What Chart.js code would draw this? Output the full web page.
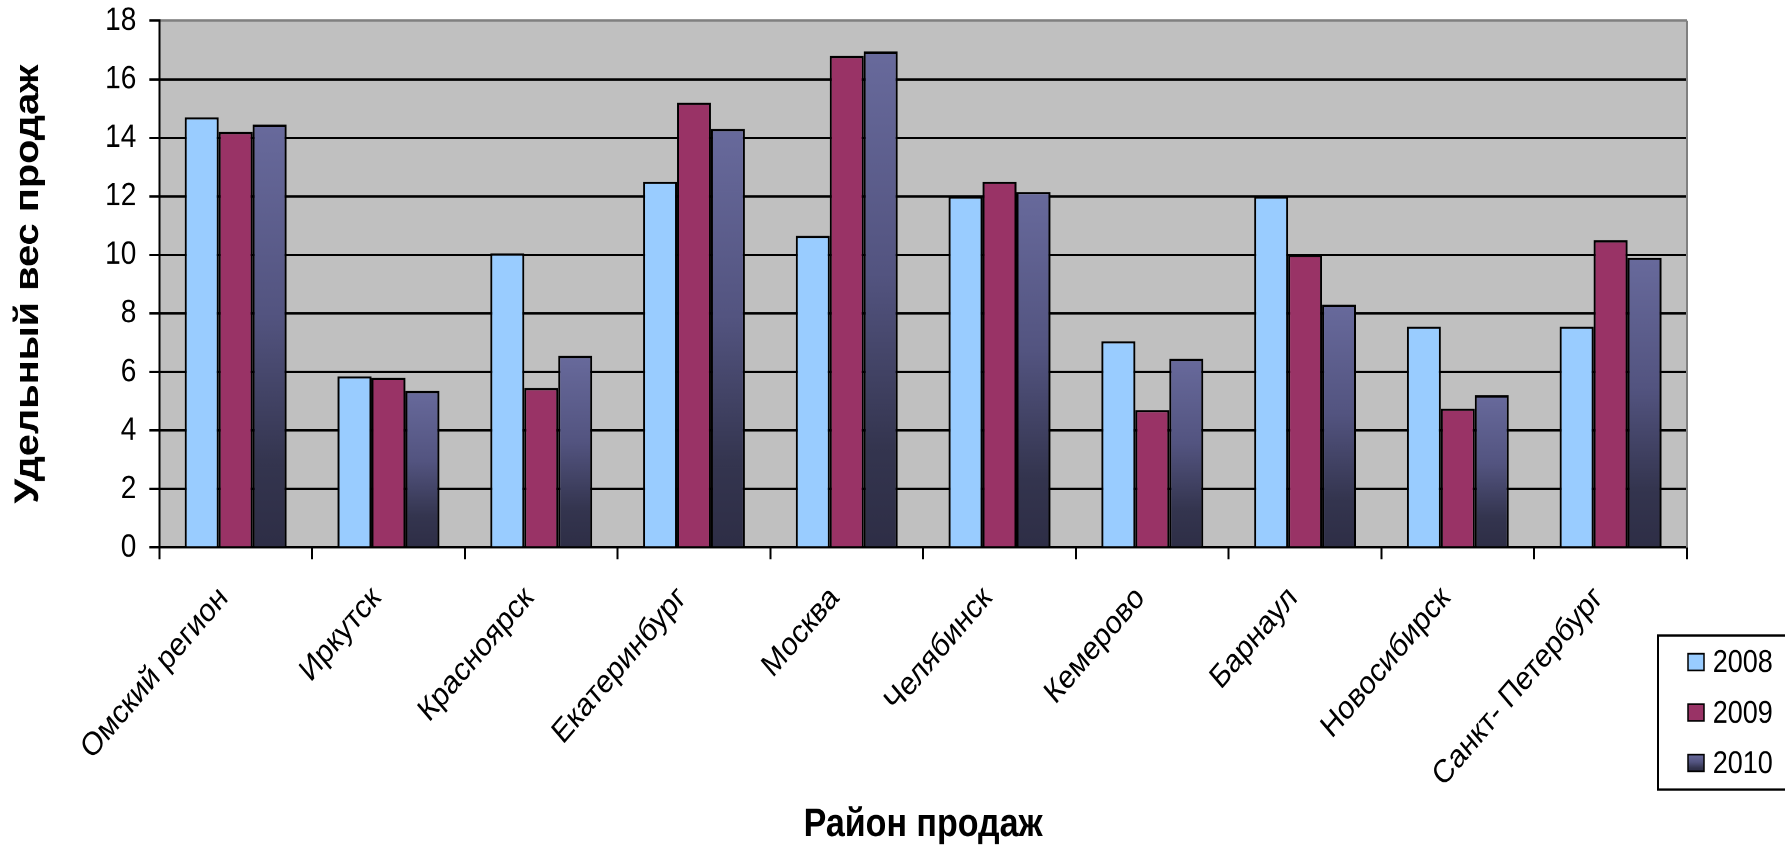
<!DOCTYPE html>
<html>
<head>
<meta charset="utf-8">
<script src="https://cdn.jsdelivr.net/npm/chart.js@4/dist/chart.umd.min.js"></script>
<style>
  html, body { margin: 0; padding: 0; background: #fff; overflow: hidden; }
  #wrap { position: absolute; left: 0; top: 0; width: 1785px; height: 726px;
          transform: scaleY(1.1694); transform-origin: 0 0; }
</style>
</head>
<body>
<div id="wrap"><canvas id="c"></canvas></div>
<script>
const categories = ['Омский регион', 'Иркутск', 'Красноярск', 'Екатеринбург', 'Москва',
                    'Челябинск', 'Кемерово', 'Барнаул', 'Новосибирск', 'Санкт- Петербург'];
const seriesLabels = ['2008', '2009', '2010'];
const values2008 = [14.7, 5.85, 10.05, 12.5, 10.65, 12.0, 7.05, 12.0, 7.55, 7.55];
const values2009 = [14.2, 5.8, 5.45, 15.2, 16.8, 12.5, 4.7, 10.0, 4.75, 10.5];
const values2010 = [14.45, 5.35, 6.55, 14.3, 16.95, 12.15, 6.45, 8.3, 5.2, 9.9];
const yMin = 0, yMax = 18, yStep = 2;
const xTitle = 'Район продаж';
const yTitle = 'Удельный вес продаж';

const FONT = "'Liberation Sans', Arial, sans-serif";
Chart.defaults.font.family = FONT;
Chart.defaults.color = '#000';

function gradient2010(ctx2d, top, base) {
  const g = ctx2d.createLinearGradient(0, top, 0, base);
  g.addColorStop(0, '#686a9c');
  g.addColorStop(0.45, '#535480');
  g.addColorStop(0.8, '#34354f');
  g.addColorStop(1, '#2e2e46');
  return g;
}

const bgPlugin = {
  id: 'plotBg',
  beforeDraw(chart) {
    const {ctx, chartArea: a} = chart;
    ctx.save();
    ctx.fillStyle = '#C0C0C0';
    ctx.fillRect(a.left, a.top, a.right - a.left, a.bottom - a.top);
    ctx.restore();
  },
  beforeDatasetsDraw(chart) {
    const {ctx, chartArea: a} = chart;
    ctx.save();
    ctx.strokeStyle = '#808080';
    ctx.lineWidth = 2;
    ctx.beginPath();
    ctx.moveTo(a.right, a.top);
    ctx.lineTo(a.right, a.bottom);
    ctx.stroke();
    ctx.restore();
  }
};

const legendPlugin = {
  id: 'boxLegend',
  afterDraw(chart, args, o) {
    const ctx = chart.ctx;
    ctx.save();
    ctx.lineWidth = 2;
    ctx.strokeStyle = '#000';
    ctx.fillStyle = '#fff';
    ctx.fillRect(o.x, o.y, o.w, o.h);
    ctx.strokeRect(o.x, o.y, o.w, o.h);
    ctx.font = o.fontSize + 'px ' + FONT;
    ctx.textBaseline = 'middle';
    ctx.textAlign = 'left';
    chart.data.datasets.forEach((ds, i) => {
      const cy = o.y + o.firstRow + i * o.rowGap;
      const sy = cy - o.boxH / 2;
      let fill = ds.legendColor;
      if (i === 2) fill = gradient2010(ctx, sy, sy + o.boxH);
      ctx.fillStyle = fill;
      ctx.fillRect(o.boxX, sy, o.boxW, o.boxH);
      ctx.lineWidth = 1.5;
      ctx.strokeStyle = '#000';
      ctx.strokeRect(o.boxX, sy, o.boxW, o.boxH);
      ctx.fillStyle = '#000';
      ctx.fillText(ds.label, o.textX, cy + 1);
    });
    ctx.restore();
  }
};

const datasets = [
  { label: seriesLabels[0], data: values2008, backgroundColor: '#99CCFF', legendColor: '#99CCFF' },
  { label: seriesLabels[1], data: values2009, backgroundColor: '#993366', legendColor: '#993366' },
  { label: seriesLabels[2], data: values2010, legendColor: '#5a5b88',
    backgroundColor: (c) => {
      const chart = c.chart;
      if (c.type !== 'data' || !chart.chartArea || !chart.scales.y) return '#5a5b88';
      const ys = chart.scales.y;
      const top = ys.getPixelForValue(c.raw);
      const base = ys.getPixelForValue(0);
      return gradient2010(chart.ctx, top, base);
    } }
].map(d => Object.assign(d, {
  borderColor: '#000', borderWidth: 2, categoryPercentage: 3 / 4.5, barPercentage: 1.0
}));

new Chart(document.getElementById('c'), {
  type: 'bar',
  data: { labels: categories, datasets },
  plugins: [bgPlugin, legendPlugin],
  options: {
    responsive: true,
    maintainAspectRatio: false,
    animation: false,
    devicePixelRatio: 2,
    layout: { padding: { top: 17.7, right: 98, bottom: 0, left: 0 } },
    plugins: {
      legend: { display: false },
      tooltip: { enabled: false },
      boxLegend: { x: 1658, y: 543.4, w: 140, h: 131.8, firstRow: 22.8, rowGap: 43.1,
                   boxX: 1688, boxW: 16, boxH: 14.3, textX: 1712.7, fontSize: 27 }
    },
    scales: {
      x: {
        offset: true,
        grid: { display: true, drawOnChartArea: false, drawTicks: true, tickLength: 10,
                offset: true, color: '#000', tickColor: '#000', lineWidth: 2 },
        border: { display: true, color: '#000', width: 2 },
        ticks: { autoSkip: false, minRotation: 45, maxRotation: 45, padding: 17, labelOffset: -12,
                 font: { size: 28 }, color: '#000' },
        title: { display: true, text: xTitle, font: { size: 34, weight: 'bold' },
                 padding: { top: 0, bottom: 0 }, color: '#000' },
        afterFit(s) { s.height = 257.8; }
      },
      y: {
        min: yMin, max: yMax,
        grid: { drawTicks: true, tickLength: 10, lineWidth: 2, tickColor: '#000',
                color: (c) => (c.tick && c.tick.value === yMax) ? '#808080' : '#000' },
        border: { display: true, color: '#000', width: 2 },
        ticks: { stepSize: yStep, padding: 13, font: { size: 28 }, color: '#000' },
        title: { display: true, text: yTitle, font: { size: 34, weight: 'bold' },
                 padding: { top: 8, bottom: 0 }, color: '#000' },
        afterFit(s) { s.width = 159.3; s.paddingTop = 0; s.paddingBottom = 0; }
      }
    }
  }
});
</script>
</body>
</html>
